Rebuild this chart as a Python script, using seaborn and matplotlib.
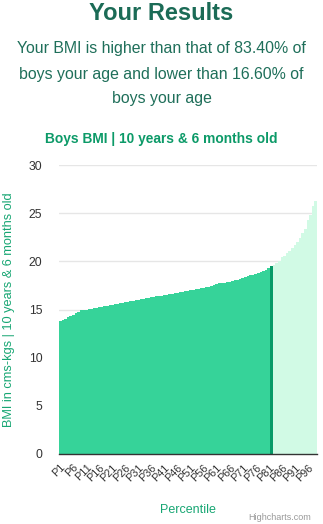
import matplotlib
matplotlib.use("Agg")
import matplotlib.pyplot as plt
import seaborn as sns
import pandas as pd

percentiles = [f"P{i}" for i in range(1, 100)]
bmi_values = [
    13.85, 13.95, 14.05, 14.2, 14.35, 14.45, 14.6, 14.75, 14.9, 14.95,
    15.0, 15.05, 15.1, 15.15, 15.2, 15.25, 15.3, 15.35, 15.4, 15.45,
    15.5, 15.55, 15.6, 15.65, 15.7, 15.75, 15.8, 15.85, 15.9, 15.95,
    16.0, 16.05, 16.1, 16.15, 16.2, 16.25, 16.3, 16.35, 16.4, 16.45,
    16.5, 16.55, 16.6, 16.65, 16.7, 16.75, 16.8, 16.85, 16.9, 16.95,
    17.0, 17.05, 17.1, 17.15, 17.2, 17.25, 17.3, 17.35, 17.45, 17.55,
    17.65, 17.7, 17.75, 17.8, 17.85, 17.9, 17.95, 18.05, 18.1, 18.15,
    18.25, 18.35, 18.45, 18.55, 18.6, 18.65, 18.75, 18.85, 19.0, 19.15,
    19.3, 19.5, 19.6, 19.8, 20.0, 20.4, 20.6, 20.9, 21.1, 21.4,
    21.7, 22.0, 22.4, 22.9, 23.4, 24.3, 24.8, 25.75, 26.3,
]
user_percentile = 82  # highlighted bar (P82)
y_ticks = [0, 5, 10, 15, 20, 25, 30]

C_BELOW = "#36d399"
C_USER = "#079a68"
C_ABOVE = "#d1fae5"

colors = []
for i in range(1, 100):
    if i < user_percentile:
        colors.append(C_BELOW)
    elif i == user_percentile:
        colors.append(C_USER)
    else:
        colors.append(C_ABOVE)

df = pd.DataFrame({"Percentile": percentiles, "BMI": bmi_values})

sns.set_theme(style="white")
plt.rcParams["font.family"] = ["Liberation Sans", "DejaVu Sans"]

W, H = 323, 524
fig = plt.figure(figsize=(W / 100, H / 100), dpi=100)
ax = fig.add_axes([59 / W, (H - 454) / H, (317 - 59) / W, (454 - 165) / H])

sns.barplot(data=df, x="Percentile", y="BMI", hue="Percentile",
            palette=colors, legend=False, width=1.0, linewidth=0,
            saturation=1, ax=ax)

ax.set_ylim(0, 30)
ax.set_xlim(-0.5, len(percentiles) - 0.5)
ax.set_yticks(y_ticks)
ax.set_yticklabels([str(v) for v in y_ticks], fontsize=8.8, color="#333333")
ax.tick_params(axis="y", length=0, pad=12)
ax.yaxis.grid(True, color="#e6e6e6", linewidth=1)
ax.set_axisbelow(True)

tick_pos = list(range(0, 99, 5))
ax.set_xticks(tick_pos)
ax.set_xticklabels([percentiles[i] for i in tick_pos], rotation=45,
                   ha="right", rotation_mode="anchor", fontsize=7.8,
                   color="#333333")
ax.tick_params(axis="x", length=0, pad=6)

for s in ["top", "right", "left"]:
    ax.spines[s].set_visible(False)
ax.spines["bottom"].set_color("#333333")
ax.spines["bottom"].set_linewidth(1.0)

ax.set_xlabel("Percentile", fontsize=9, color="#17a673", labelpad=15)
ax.set_ylabel("BMI in cms-kgs | 10 years & 6 months old", fontsize=9.2,
              color="#17a673", labelpad=10)

fig.text(0.5, 1 - 14 / H, "Your Results", ha="center", va="center",
         fontsize=17, fontweight="bold", color="#1b6b56")
sub_lines = ["Your BMI is higher than that of 83.40% of",
             "boys your age and lower than 16.60% of",
             "boys your age"]
for k, line in enumerate(sub_lines):
    fig.text(0.5, 1 - (49 + 25 * k) / H, line, ha="center", va="center",
             fontsize=11.45, color="#1f6f5a")
fig.text(0.5, 1 - 139 / H, "Boys BMI | 10 years & 6 months old",
         ha="center", va="center", fontsize=9.95, fontweight="bold",
         color="#0c9a68")
fig.text(311 / W, 1 - 517 / H, "Highcharts.com", ha="right", va="center",
         fontsize=6.5, color="#999999")

fig.savefig("out.png", dpi=100)
